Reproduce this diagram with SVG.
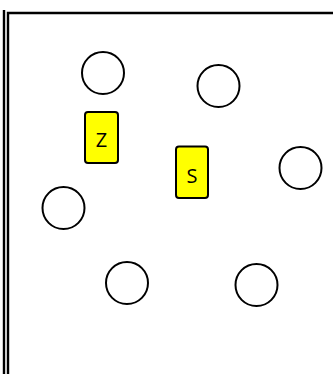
<svg xmlns="http://www.w3.org/2000/svg" width="333" height="374" viewBox="0 0 333 374">
<style>
.c{fill:#fff;stroke:#000;stroke-width:2}
.r{fill:#ffff00;stroke:#000;stroke-width:2}
.t{font-family:"Open Sans","Liberation Sans",Arial,sans-serif;font-size:20px;text-anchor:middle;fill:#000}
.b{fill:none;stroke:#000;stroke-width:2.4}
</style>
<rect width="333" height="374" fill="#fff"/>
<g id="frame">
<line class="b" x1="4" y1="10" x2="4" y2="374"/>
<path class="b" d="M8,374 V13 H333"/>
</g>
<g id="connectors"></g>
<g id="c1"><circle class="c" cx="103" cy="73" r="21"/></g>
<g id="c2"><circle class="c" cx="218.5" cy="86" r="21"/></g>
<g id="c3"><circle class="c" cx="300.5" cy="168" r="21"/></g>
<g id="c4"><circle class="c" cx="63.5" cy="208" r="21"/></g>
<g id="c5"><circle class="c" cx="127" cy="283" r="21"/></g>
<g id="c6"><circle class="c" cx="256.5" cy="285" r="21"/></g>
<g id="z"><rect class="r" x="85" y="112" width="33" height="51" rx="3"/><text class="t" x="101.5" y="147">Z</text></g>
<g id="s"><rect class="r" x="176" y="146.5" width="32" height="51.5" rx="3"/><text class="t" x="192" y="183">S</text></g>
</svg>
